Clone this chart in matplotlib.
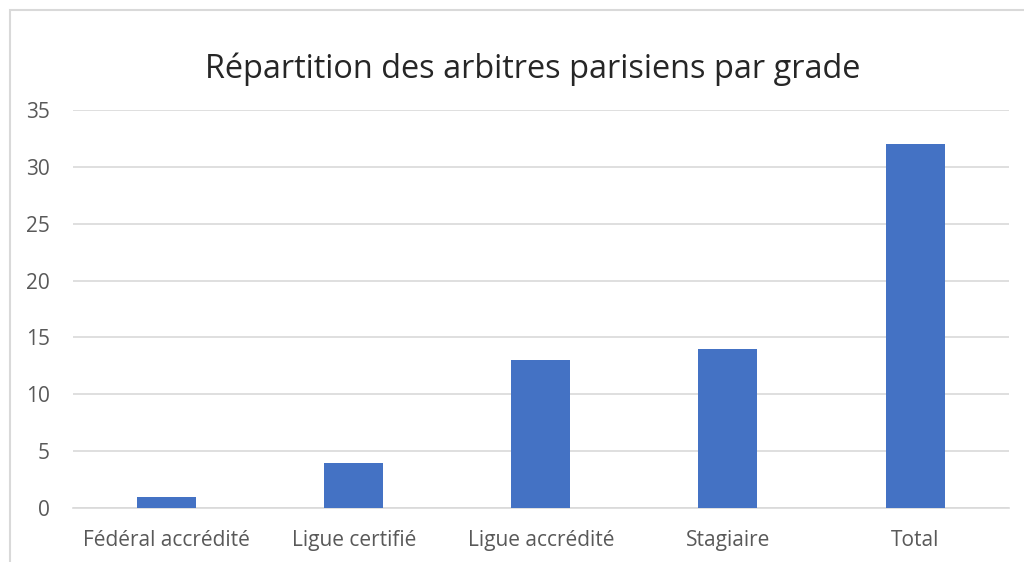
import matplotlib
matplotlib.use("Agg")
from matplotlib import pyplot as plt
from matplotlib.patches import Rectangle

categories = ["Fédéral accrédité", "Ligue certifié", "Ligue accrédité", "Stagiaire", "Total"]
values = [1, 4, 13, 14, 32]
yticks = [0, 5, 10, 15, 20, 25, 30, 35]

plt.rcParams["font.family"] = ["Open Sans", "DejaVu Sans"]

fig = plt.figure(figsize=(10.24, 5.62), dpi=100)
ax = fig.add_axes([0.0713, 0.0961, 0.9137, 0.7082])

# chart border (cut off on the right and bottom like the screenshot)
fig.patches.append(Rectangle((10 / 1024, -0.1), 1.2, 1 - 10 / 562 + 0.1,
                             transform=fig.transFigure, fill=False,
                             edgecolor="#d9d9d9", linewidth=1.5))

x = list(range(len(categories)))
ax.bar(x, values, width=0.315, color="#4472c4", zorder=3)

ax.set_xlim(-0.5, len(categories) - 0.5)
ax.set_ylim(0, 35)
ax.set_yticks(yticks)
ax.set_xticks(x)
ax.set_xticklabels(categories)
ax.grid(axis="y", color="#d9d9d9", linewidth=1.2, zorder=0)
for s in ["top", "right", "left"]:
    ax.spines[s].set_visible(False)
ax.spines["bottom"].set_color("#d9d9d9")
ax.spines["bottom"].set_linewidth(1.2)
ax.tick_params(axis="both", length=0, labelsize=15, colors="#595959")
ax.tick_params(axis="x", pad=16)
ax.tick_params(axis="y", pad=16.5)

fig.text(0.52, 0.876, "Répartition des arbitres parisiens par grade",
         ha="center", va="center", fontsize=23.4, color="#262626")

fig.savefig("out.png", dpi=100)
